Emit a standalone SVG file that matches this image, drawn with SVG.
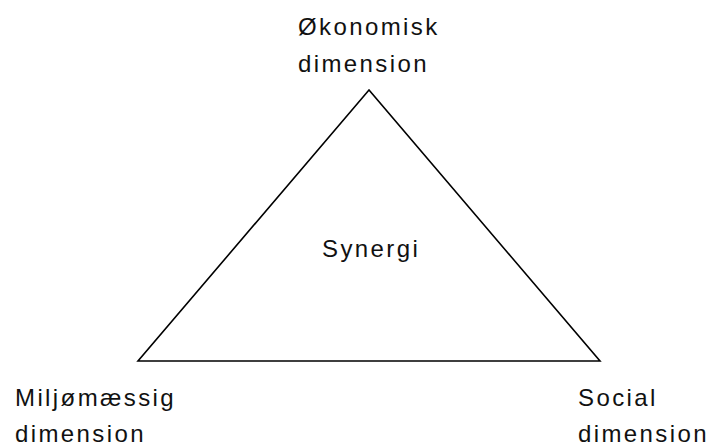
<svg xmlns="http://www.w3.org/2000/svg" width="712" height="446" viewBox="0 0 712 446">
<style>
text{font-family:"Liberation Sans",Arial,sans-serif;font-size:24px;fill:#111;letter-spacing:2.4px}
.tri{fill:none;stroke:#000;stroke-width:1.6}
</style>
<rect width="712" height="446" fill="#fff"/>
<g id="connectors">
<polygon class="tri" points="369,90 138,361 600,361"/>
</g>
<g id="okonomisk"><text x="298" y="35">Økonomisk</text><text x="298" y="71.5">dimension</text></g>
<g id="synergi"><text x="322" y="257">Synergi</text></g>
<g id="miljo"><text x="15" y="406">Miljømæssig</text><text x="15" y="442">dimension</text></g>
<g id="social"><text x="578" y="406">Social</text><text x="578" y="442">dimension</text></g>
</svg>
